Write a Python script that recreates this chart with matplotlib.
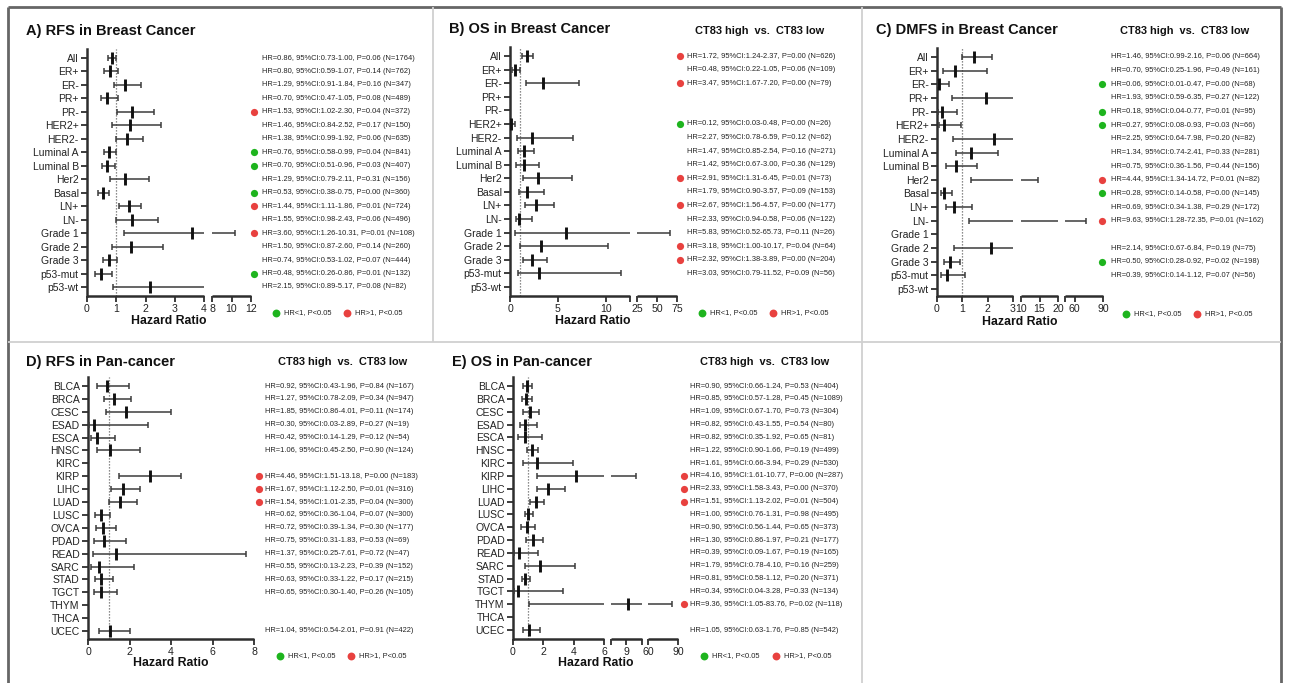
import numpy as np
import matplotlib
matplotlib.use("Agg")
import matplotlib.pyplot as plt
from matplotlib.lines import Line2D

plt.rcParams['font.family'] = ['Liberation Sans', 'DejaVu Sans']

nan = np.nan

# ---------------- DATA ----------------
breast_cats = ["All", "ER+", "ER-", "PR+", "PR-", "HER2+", "HER2-", "Luminal A", "Luminal B",
               "Her2", "Basal", "LN+", "LN-", "Grade 1", "Grade 2", "Grade 3", "p53-mut", "p53-wt"]
pan_cats = ["BLCA", "BRCA", "CESC", "ESAD", "ESCA", "HNSC", "KIRC", "KIRP", "LIHC", "LUAD",
            "LUSC", "OVCA", "PDAD", "READ", "SARC", "STAD", "TGCT", "THYM", "THCA", "UCEC"]

# A) RFS in Breast Cancer
a_hr = [0.86, 0.80, 1.29, 0.70, 1.53, 1.46, 1.38, 0.76, 0.70, 1.29, 0.53, 1.44, 1.55, 3.60, 1.50, 0.74, 0.48, 2.15]
a_lo = [0.73, 0.59, 0.91, 0.47, 1.02, 0.84, 0.99, 0.58, 0.51, 0.79, 0.38, 1.11, 0.98, 1.26, 0.87, 0.53, 0.26, 0.89]
a_hi = [1.00, 1.07, 1.84, 1.05, 2.30, 2.52, 1.92, 0.99, 0.96, 2.11, 0.75, 1.86, 2.43, 10.31, 2.60, 1.02, 0.86, 5.17]
a_p = [0.06, 0.14, 0.16, 0.08, 0.04, 0.17, 0.06, 0.04, 0.03, 0.31, 0.00, 0.01, 0.06, 0.01, 0.14, 0.07, 0.01, 0.08]
a_n = [1764, 762, 347, 489, 372, 150, 635, 841, 407, 156, 360, 724, 496, 108, 260, 444, 132, 82]

# B) OS in Breast Cancer
b_hr = [1.72, 0.48, 3.47, nan, nan, 0.12, 2.27, 1.47, 1.42, 2.91, 1.79, 2.67, 2.33, 5.83, 3.18, 2.32, 3.03, nan]
b_lo = [1.24, 0.22, 1.67, nan, nan, 0.03, 0.78, 0.85, 0.67, 1.31, 0.90, 1.56, 0.94, 0.52, 1.00, 1.38, 0.79, nan]
b_hi = [2.37, 1.05, 7.20, nan, nan, 0.48, 6.59, 2.54, 3.00, 6.45, 3.57, 4.57, 0.58, 65.73, 10.17, 3.89, 11.52, nan]
b_p = [0.00, 0.06, 0.00, nan, nan, 0.00, 0.12, 0.16, 0.36, 0.01, 0.09, 0.00, 0.06, 0.11, 0.04, 0.00, 0.09, nan]
b_n = [626, 109, 79, 0, 0, 26, 62, 271, 129, 73, 153, 177, 122, 26, 64, 204, 56, 0]
b_plot_fix = {"LN-": (0.94, 0.58, 2.33)}   # as drawn in the figure

# C) DMFS in Breast Cancer
c_hr = [1.46, 0.70, 0.06, 1.93, 0.18, 0.27, 2.25, 1.34, 0.75, 4.44, 0.28, 0.69, 9.63, nan, 2.14, 0.50, 0.39, nan]
c_lo = [0.99, 0.25, 0.01, 0.59, 0.04, 0.08, 0.64, 0.74, 0.36, 1.34, 0.14, 0.34, 1.28, nan, 0.67, 0.28, 0.14, nan]
c_hi = [2.16, 1.96, 0.47, 6.35, 0.77, 0.93, 7.98, 2.41, 1.56, 14.72, 0.58, 1.38, 72.35, nan, 6.84, 0.92, 1.12, nan]
c_p = [0.06, 0.49, 0.00, 0.27, 0.01, 0.03, 0.20, 0.33, 0.44, 0.01, 0.00, 0.29, 0.01, nan, 0.19, 0.02, 0.07, nan]
c_n = [664, 161, 68, 122, 95, 66, 82, 281, 156, 82, 145, 172, 162, 0, 75, 198, 56, 0]

# D) RFS in Pan-cancer
d_hr = [0.92, 1.27, 1.85, 0.30, 0.42, 1.06, nan, 4.46, 1.67, 1.54, 0.62, 0.72, 0.75, 1.37, 0.55, 0.63, 0.65, nan, nan, 1.04]
d_lo = [0.43, 0.78, 0.86, 0.03, 0.14, 0.45, nan, 1.51, 1.12, 1.01, 0.36, 0.39, 0.31, 0.25, 0.13, 0.33, 0.30, nan, nan, 0.54]
d_hi = [1.96, 2.09, 4.01, 2.89, 1.29, 2.50, nan, 13.18, 2.50, 2.35, 1.04, 1.34, 1.83, 7.61, 2.23, 1.22, 1.40, nan, nan, 2.01]
d_p = [0.84, 0.34, 0.11, 0.27, 0.12, 0.90, nan, 0.00, 0.01, 0.04, 0.07, 0.30, 0.53, 0.72, 0.39, 0.17, 0.26, nan, nan, 0.91]
d_n = [167, 947, 174, 19, 54, 124, 0, 183, 316, 300, 300, 177, 69, 47, 152, 215, 105, 0, 0, 422]
d_plot_fix = {"KIRP": (2.99, 1.51, 4.46)}  # as drawn in the figure

# E) OS in Pan-cancer
e_hr = [0.90, 0.85, 1.09, 0.82, 0.82, 1.22, 1.61, 4.16, 2.33, 1.51, 1.00, 0.90, 1.30, 0.39, 1.79, 0.81, 0.34, 9.36, nan, 1.05]
e_lo = [0.66, 0.57, 0.67, 0.43, 0.35, 0.90, 0.66, 1.61, 1.58, 1.13, 0.76, 0.56, 0.86, 0.09, 0.78, 0.58, 0.04, 1.05, nan, 0.63]
e_hi = [1.24, 1.28, 1.70, 1.55, 1.92, 1.66, 3.94, 10.77, 3.43, 2.02, 1.31, 1.44, 1.97, 1.67, 4.10, 1.12, 3.28, 83.76, nan, 1.76]
e_p = [0.53, 0.45, 0.73, 0.54, 0.65, 0.19, 0.29, 0.00, 0.00, 0.01, 0.98, 0.65, 0.21, 0.19, 0.16, 0.20, 0.33, 0.02, nan, 0.85]
e_n = [404, 1089, 304, 80, 81, 499, 530, 287, 370, 504, 495, 373, 177, 165, 259, 371, 134, 118, 0, 542]

titles = ["A) RFS in Breast Cancer", "B) OS in Breast Cancer", "C) DMFS in Breast Cancer",
          "D) RFS in Pan-cancer", "E) OS in Pan-cancer"]
header = "CT83 high  vs.  CT83 low"
legend_labels = ["HR<1, P<0.05", "HR>1, P<0.05"]
xlabel = "Hazard Ratio"

RED = "#e8413f"
GREEN = "#1eb41e"
AXC = "#2e2e2e"
CIC = "#3c3c3c"

# ---------------- FIGURE ----------------
W, H = 1289, 683
fig = plt.figure(figsize=(W / 100, H / 100), dpi=100)


def fx(px):
    return px / W


def fy(py):
    return 1 - py / H


def make_funcs(dk, pk):
    dk = np.asarray(dk, float)
    pk = np.asarray(pk, float)

    def mk(xs, ys):
        s0 = (ys[1] - ys[0]) / (xs[1] - xs[0])
        s1 = (ys[-1] - ys[-2]) / (xs[-1] - xs[-2])

        def f(x):
            x = np.asarray(x, float)
            y = np.interp(x, xs, ys)
            y = np.where(x < xs[0], ys[0] + (x - xs[0]) * s0, y)
            y = np.where(x > xs[-1], ys[-1] + (x - xs[-1]) * s1, y)
            return y
        return f
    return mk(dk, pk), mk(pk, dk)


def panel(cats, hr, lo, hi, pv, nn, fix, lay, title, show_header):
    left, top, bottom = lay["left"], lay["top"], lay["bottom"]
    segs, segpx = lay["segs"], lay["segpx"]
    right = segpx[-1][1]
    ax = fig.add_axes([fx(left), fy(bottom), fx(right - left), (bottom - top) / H])
    dk, pk = [], []
    for (a, b), (pa, pb) in zip(segs, segpx):
        dk += [a, b]
        pk += [pa - left, pb - left]
    fwd, inv = make_funcs(dk, pk)
    ax.set_xscale("function", functions=(fwd, inv))
    ax.set_xlim(segs[0][0], segs[-1][1])

    r0, r1 = lay["rows"]
    n = len(cats)
    step = (r1 - r0) / (n - 1)
    ax.set_ylim((bottom - r0) / step, (top - r0) / step)

    for s in ["top", "right", "bottom"]:
        ax.spines[s].set_visible(False)
    ax.spines["left"].set_linewidth(1.8)
    ax.spines["left"].set_color(AXC)

    ax.set_yticks(range(n))
    ax.set_yticklabels(cats, fontsize=7.5, color="#222")
    ax.tick_params(axis="y", length=4, width=1.3, color=AXC, pad=2)
    ax.set_xticks(lay["ticks"])
    ax.set_xticklabels(lay["ticklabels"], fontsize=7.6, color="#222")
    ax.tick_params(axis="x", length=4, width=1.3, color=AXC, pad=2)
    ax.minorticks_off()

    for a, b in segs:
        ax.plot([a, b], [0, 0], transform=ax.get_xaxis_transform(), color=AXC,
                lw=1.8, clip_on=False, solid_capstyle="butt")

    ax.axvline(1, color="#666666", ls=(0, (1, 1.4)), lw=0.9, zorder=1)

    def inside(v):
        return any(a <= v <= b for a, b in segs)

    tr = ax.get_yaxis_transform()
    w = right - left
    for i, c in enumerate(cats):
        if np.isnan(hr[i]):
            continue
        h, l, u = fix.get(c, (hr[i], lo[i], hi[i]))
        for a, b in segs:
            s, e = max(l, a), min(u, b)
            if s < e:
                ax.plot([s, e], [i, i], color=CIC, lw=1.1, solid_capstyle="butt", zorder=2)
        for v in (l, u):
            if inside(v):
                ax.plot([v], [i], marker="|", ms=5, mew=1.1, color=CIC, zorder=3)
        if inside(h):
            ax.plot([h], [i], marker="|", ms=9, mew=2.1, color="#111111", zorder=4)
        txt = f"HR={hr[i]:.2f}, 95%CI:{lo[i]:.2f}-{hi[i]:.2f}, P={pv[i]:.2f} (N={nn[i]})"
        ax.text((lay["text_x"] - left) / w, i, txt, transform=tr, fontsize=5.4,
                color="#222", va="center", ha="left")
        if pv[i] < 0.05:
            col = GREEN if hr[i] < 1 else RED
            ax.scatter([(lay["dot_x"] - left) / w], [i], transform=tr, s=27, color=col,
                       clip_on=False, zorder=5, linewidths=0)

    # legend
    ly = (bottom - lay["leg_y"]) / (bottom - top)
    for px, col, lab in zip(lay["leg_x"], [GREEN, RED], legend_labels):
        ax.scatter([(px - left) / w], [ly], transform=ax.transAxes, s=32, color=col,
                   clip_on=False, linewidths=0)
        ax.text((px + 8 - left) / w, ly, lab, transform=ax.transAxes, fontsize=5.4,
                color="#222", va="center", ha="left")

    fig.text(fx(lay["title"][0]), fy(lay["title"][1]), title, fontsize=10.5,
             fontweight="bold", ha="left", va="center", color="#111")
    if show_header:
        fig.text(fx(lay["header"][0]), fy(lay["header"][1]), header, fontsize=7.9,
                 fontweight="bold", ha="center", va="center", color="#111")
    fig.text(fx(lay["xlab"][0]), fy(lay["xlab"][1]), xlabel, fontsize=8.8,
             fontweight="bold", ha="center", va="center", color="#111")
    return ax


lay_a = dict(left=87, top=49, bottom=296, segs=[(0, 4), (8, 12)], segpx=[(87, 204), (212, 251)],
             ticks=[0, 1, 2, 3, 4, 8, 10, 12], ticklabels=["0", "1", "2", "3", "4", "8", "10", "12"],
             rows=(58, 287), text_x=262, dot_x=254, leg_y=313, leg_x=(276, 347),
             title=(26, 31), header=None, xlab=(169, 321))
lay_b = dict(left=510, top=47, bottom=296, segs=[(0, 12.5), (25, 75)], segpx=[(510, 630), (637, 677)],
             ticks=[0, 5, 10, 12.5, 25, 50, 75], ticklabels=["0", "5", "10", "", "25", "50", "75"],
             rows=(56, 287), text_x=687, dot_x=680, leg_y=313, leg_x=(702, 773),
             title=(449, 29), header=(760, 31), xlab=(593, 321))
lay_c = dict(left=937, top=48, bottom=296, segs=[(0, 3), (10, 20), (50, 90)],
             segpx=[(937, 1013), (1021, 1058), (1065, 1103)],
             ticks=[0, 1, 2, 3, 10, 15, 20, 50, 60, 90],
             ticklabels=["0", "1", "2", "3", "10", "15", "20", "", "60", "90"],
             rows=(57, 289), text_x=1111, dot_x=1102, leg_y=314, leg_x=(1126, 1197),
             title=(876, 30), header=(1185, 31), xlab=(1020, 322))
lay_d = dict(left=88, top=377, bottom=639, segs=[(0, 8)], segpx=[(88, 254)],
             ticks=[0, 2, 4, 6, 8], ticklabels=["0", "2", "4", "6", "8"],
             rows=(386, 631), text_x=265, dot_x=259, leg_y=656, leg_x=(280, 351),
             title=(26, 362), header=(343, 362), xlab=(171, 663))
lay_e = dict(left=513, top=377, bottom=639, segs=[(0, 6), (6.001, 12), (60, 90)],
             segpx=[(513, 604), (611, 642), (648, 678)],
             ticks=[0, 2, 4, 6, 6.001, 9, 12, 60, 90],
             ticklabels=["0", "2", "4", "6", "", "9", "", "60", "90"],
             rows=(386, 630), text_x=690, dot_x=684, leg_y=656, leg_x=(704, 776),
             title=(452, 362), header=(765, 362), xlab=(596, 663))

panel(breast_cats, a_hr, a_lo, a_hi, a_p, a_n, {}, lay_a, titles[0], False)
panel(breast_cats, b_hr, b_lo, b_hi, b_p, b_n, b_plot_fix, lay_b, titles[1], True)
panel(breast_cats, c_hr, c_lo, c_hi, c_p, c_n, {}, lay_c, titles[2], True)
panel(pan_cats, d_hr, d_lo, d_hi, d_p, d_n, d_plot_fix, lay_d, titles[3], True)
panel(pan_cats, e_hr, e_lo, e_hi, e_p, e_n, {}, lay_e, titles[4], True)


def fline(x0, y0, x1, y1, color, lw):
    fig.add_artist(Line2D([fx(x0), fx(x1)], [fy(y0), fy(y1)], transform=fig.transFigure,
                          color=color, lw=lw, solid_capstyle="butt"))


# frame
fline(8, 7, 1281, 7, "#666666", 2.0)
fline(8, 7, 8, 683, "#666666", 2.0)
fline(1281, 7, 1281, 683, "#666666", 2.0)
fline(433, 7, 433, 342, "#d0d0d0", 1.3)
fline(862, 7, 862, 342, "#d0d0d0", 1.3)
fline(8, 342, 1281, 342, "#d0d0d0", 1.3)
fline(862, 342, 862, 683, "#d0d0d0", 1.3)

fig.savefig("out.png", dpi=100)
